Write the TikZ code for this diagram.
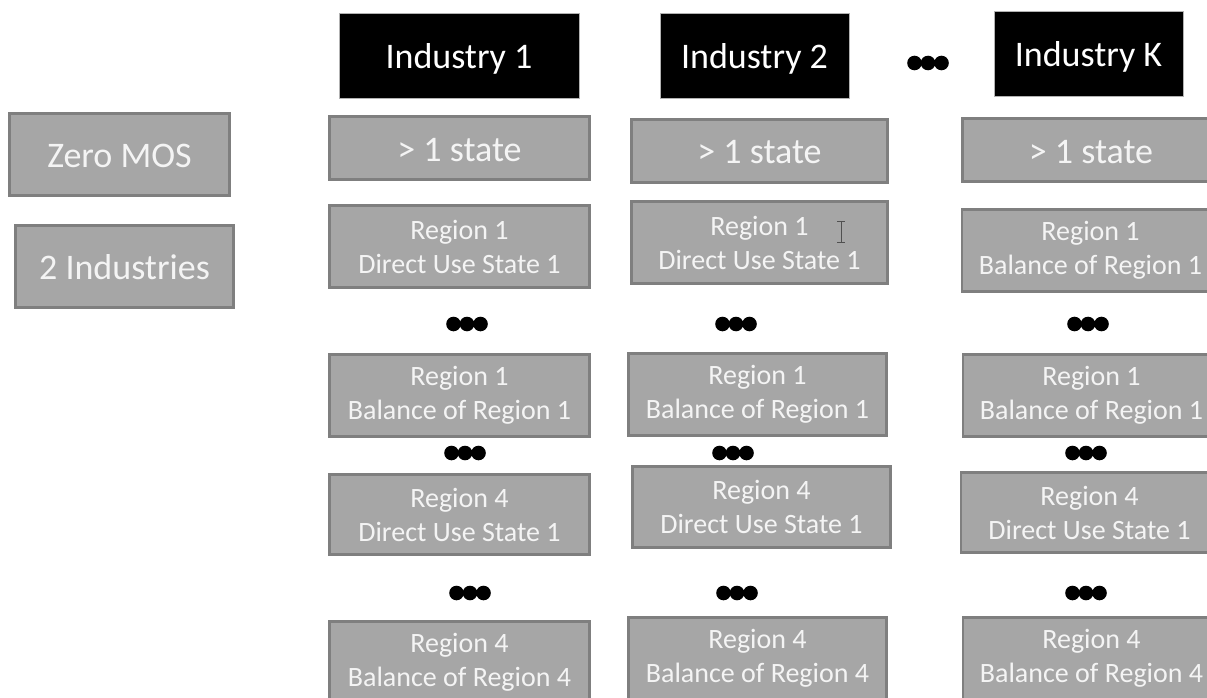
\documentclass[tikz,border=0pt]{standalone}
\usepackage{fontspec}
\setmainfont{Carlito}
\definecolor{boxfill}{HTML}{A6A6A6}
\definecolor{boxline}{HTML}{7F7F7F}
\definecolor{boxtext}{HTML}{F4F4F4}
\definecolor{cursorc}{HTML}{505050}
\tikzset{
  gbox/.style={draw=boxline, line width=2.5pt, fill=boxfill, text=boxtext, inner sep=0pt, align=center},
  hbox/.style={draw=gray!60, line width=1pt, fill=black, text=white, inner sep=0pt, align=center,
               font=\fontsize{36}{43}\selectfont, text height=26pt, text depth=0pt},
  bigtxt/.style={font=\fontsize{36}{43}\selectfont, text height=26pt, text depth=0pt},
  smalltxt/.style={font=\fontsize{28}{34}\selectfont},
  ell/.style={fill=black, draw=none},
}
\newcommand\dotrow[2]{%
  \fill[ell] (#1-13.5,#2) circle (7.3);
  \fill[ell] (#1,#2) circle (7.3);
  \fill[ell] (#1+13.5,#2) circle (7.3);}
\begin{document}
\begin{tikzpicture}[x=1pt,y=-1pt]
\useasboundingbox (0,0) rectangle (1207,698);
% headers
\node[hbox, minimum width=240pt, minimum height=85pt] (ind1) at (459,56) {Industry 1};
\node[hbox, minimum width=189pt, minimum height=85pt] (ind2) at (754.5,56) {Industry 2};
\node[hbox, minimum width=189pt, minimum height=85pt] (indK) at (1088.5,54) {Industry K};
\dotrow{928}{63}
% left boxes
\node[gbox, bigtxt, minimum width=220pt, minimum height=82pt] (zero) at (119.5,154.5) {Zero MOS};
\node[gbox, bigtxt, minimum width=218pt, minimum height=82pt] (two) at (124.5,266.5) {2 Industries};
% column 1
\node[gbox, bigtxt, minimum width=260pt, minimum height=63pt] (s1) at (459.5,148) {> 1 state};
\node[gbox, smalltxt, minimum width=260pt, minimum height=82pt] (a1) at (459.5,246.5) {Region 1\\Direct Use State 1};
\dotrow{467}{324}
\node[gbox, smalltxt, minimum width=260pt, minimum height=82pt] (b1) at (459.5,395.5) {Region 1\\Balance of Region 1};
\dotrow{465}{453}
\node[gbox, smalltxt, minimum width=260pt, minimum height=80pt] (c1) at (459.5,514.5) {Region 4\\Direct Use State 1};
\dotrow{470}{593}
\node[gbox, smalltxt, minimum width=260pt, minimum height=82pt] (d1) at (459.5,662.5) {Region 4\\Balance of Region 4};
% column 2
\node[gbox, bigtxt, minimum width=256pt, minimum height=63pt] (s2) at (759.5,151) {> 1 state};
\node[gbox, smalltxt, minimum width=256pt, minimum height=82pt] (a2) at (759.5,242.5) {Region 1\\Direct Use State 1};
\dotrow{736}{324}
\node[gbox, smalltxt, minimum width=258pt, minimum height=82pt] (b2) at (757.5,394.5) {Region 1\\Balance of Region 1};
\dotrow{733}{453}
\node[gbox, smalltxt, minimum width=258pt, minimum height=81pt] (c2) at (761.5,507) {Region 4\\Direct Use State 1};
\dotrow{737}{593}
\node[gbox, smalltxt, minimum width=258pt, minimum height=82pt] (d2) at (757.5,658.5) {Region 4\\Balance of Region 4};
% text cursor
\draw[cursorc, line width=1pt] (841,221) -- (841,242);
\draw[cursorc, line width=1pt] (837,221) -- (845,221);
\draw[cursorc, line width=1pt] (837,242) -- (845,242);
% column K
\node[gbox, bigtxt, minimum width=257pt, minimum height=63pt] (sK) at (1091,150) {> 1 state};
\node[gbox, smalltxt, minimum width=257pt, minimum height=82pt] (aK) at (1090.5,250.5) {Region 1\\Balance of Region 1};
\dotrow{1088}{324}
\node[gbox, smalltxt, minimum width=257pt, minimum height=82pt] (bK) at (1091.5,395.5) {Region 1\\Balance of Region 1};
\dotrow{1086}{453}
\node[gbox, smalltxt, minimum width=257pt, minimum height=80pt] (cK) at (1089.5,512.5) {Region 4\\Direct Use State 1};
\dotrow{1086}{593}
\node[gbox, smalltxt, minimum width=257pt, minimum height=82pt] (dK) at (1091.5,658.5) {Region 4\\Balance of Region 4};
\end{tikzpicture}
\end{document}
